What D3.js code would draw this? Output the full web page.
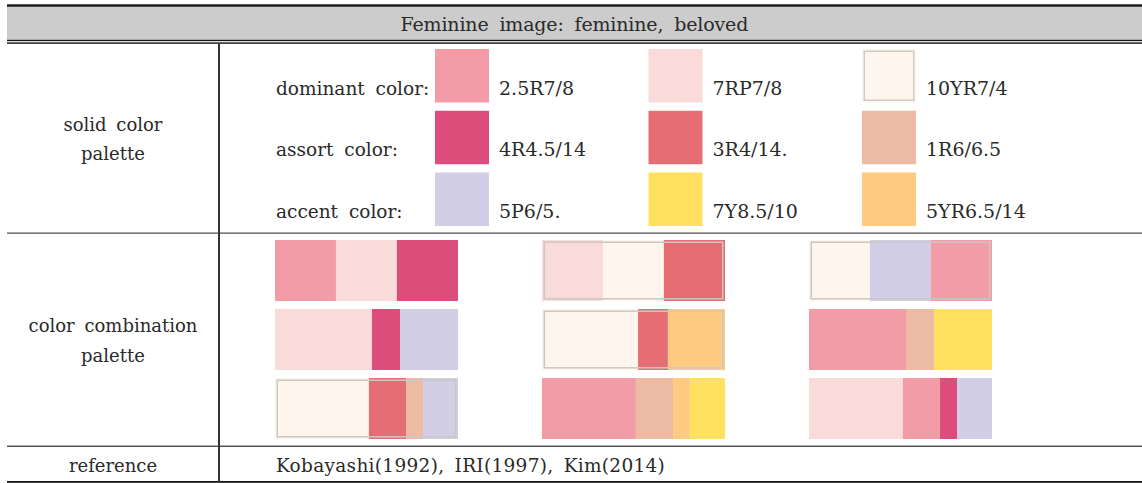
<!DOCTYPE html>
<html><head><meta charset="utf-8">
<script src="https://cdn.jsdelivr.net/npm/d3@7/dist/d3.min.js"></script>
<style>html,body{margin:0;padding:0;background:#fff;} svg{display:block;}</style>
</head><body>
<script>
// ---------- data ----------
const title = "Feminine image: feminine, beloved";
const sectionLabels = [["solid color", "palette"], ["color combination", "palette"], ["reference"]];
const roleLabels = ["dominant color:", "assort color:", "accent color:"];
const munsellCodes = [
  ["2.5R7/8", "7RP7/8", "10YR7/4"],
  ["4R4.5/14", "3R4/14.", "1R6/6.5"],
  ["5P6/5.", "7Y8.5/10", "5YR6.5/14"]
];
const munsellKeys = [
  ["2.5R7/8", "7RP7/8", "10YR7/4"],
  ["4R4.5/14", "3R4/14", "1R6/6.5"],
  ["5P6/5", "7Y8.5/10", "5YR6.5/14"]
];
const munsellColor = {
  "2.5R7/8": "#F19CA7", "7RP7/8": "#F9DBDA", "10YR7/4": "#FEF6EC",
  "4R4.5/14": "#DC4D7B", "3R4/14": "#E46E74", "1R6/6.5": "#EDBBA3",
  "5P6/5": "#D2CEE5", "7Y8.5/10": "#FFE15F", "5YR6.5/14": "#FECB80"
};
// combination palettes, row-major (row, column)
const comboColors = [
  [["2.5R7/8","7RP7/8","4R4.5/14"], ["7RP7/8","10YR7/4","3R4/14"], ["10YR7/4","5P6/5","2.5R7/8"]],
  [["7RP7/8","4R4.5/14","5P6/5"], ["10YR7/4","3R4/14","5YR6.5/14"], ["2.5R7/8","1R6/6.5","7Y8.5/10"]],
  [["10YR7/4","3R4/14","1R6/6.5","5P6/5"], ["2.5R7/8","1R6/6.5","5YR6.5/14","7Y8.5/10"], ["7RP7/8","2.5R7/8","4R4.5/14","5P6/5"]]
];
const comboShares = [
  [[33.3,33.3,33.4], [33.3,33.3,33.4], [33.3,33.3,33.4]],
  [[53,15.3,31.7], [52.5,16.3,31.2], [53,15.3,31.7]],
  [[51.3,20.3,9.3,19.1], [51.3,20.3,9.3,19.1], [51.3,20.3,9.3,19.1]]
];
const comboFramed = [
  [false, true, true],
  [false, true, false],
  [true, false, false]
];
const referenceText = "Kobayashi(1992), IRI(1997), Kim(2014)";

// ---------- layout ----------
const FONT = "'DejaVu Serif', serif";
const W = 1142, H = 483;
const left = 7, divX = 219;
const svg = d3.select("body").append("svg").attr("width", W).attr("height", H);
function txt(x, y, size, s) {
  return svg.append("text").attr("x", x).attr("y", y).attr("font-family", FONT)
    .attr("font-size", size).attr("fill", "#2a2a2a").text(s);
}

// header
svg.append("rect").attr("x", left).attr("y", 6).attr("width", W - left).attr("height", 35).attr("fill", "#cccccc");
svg.append("rect").attr("x", left).attr("y", 4.3).attr("width", W - left).attr("height", 2.4).attr("fill", "#161616");
svg.append("rect").attr("x", left).attr("y", 39.8).attr("width", W - left).attr("height", 1.3).attr("fill", "#161616");
svg.append("rect").attr("x", left).attr("y", 41.1).attr("width", W - left).attr("height", 1.3).attr("fill", "#dddddd");
svg.append("rect").attr("x", left).attr("y", 42.4).attr("width", W - left).attr("height", 1.4).attr("fill", "#161616");
txt((left + W) / 2, 30.5, 19, title).attr("text-anchor", "middle")
  .attr("letter-spacing", 0.2).attr("word-spacing", 5).attr("textLength", 348).attr("lengthAdjust", "spacing");

// grid lines
svg.append("rect").attr("x", left).attr("y", 232.4).attr("width", W - left).attr("height", 1.5).attr("fill", "#6e6e6e");
svg.append("rect").attr("x", left).attr("y", 445.6).attr("width", W - left).attr("height", 1.3).attr("fill", "#3a3a3a");
svg.append("rect").attr("x", left).attr("y", 481).attr("width", W - left).attr("height", 1.8).attr("fill", "#161616");
svg.append("rect").attr("x", divX - 1).attr("y", 43.8).attr("width", 2).attr("height", 482 - 43.8).attr("fill", "#333333");

// section labels
const sectionY = [[130.5, 160], [332, 361.5], [472]];
sectionLabels.forEach((lines, i) => {
  lines.forEach((t, j) => {
    txt((left + divX) / 2, sectionY[i][j], 18, t).attr("text-anchor", "middle")
      .attr("word-spacing", 4);
  });
});

// solid palette
const swCol = d3.scalePoint().domain([0, 1, 2]).range([435, 862]);
const swRow = d3.scalePoint().domain([0, 1, 2]).range([49, 172.5]);
const swSize = 54;
roleLabels.forEach((t, r) => {
  txt(276, swRow(r) + 45.5, 18.5, t).attr("word-spacing", 5);
});
munsellKeys.forEach((row, r) => {
  row.forEach((key, c) => {
    const x = swCol(c), y = swRow(r);
    svg.append("rect").attr("x", x).attr("y", y).attr("width", swSize).attr("height", swSize - 0.5)
      .attr("fill", munsellColor[key]);
    if (key === "10YR7/4") {
      svg.append("rect").attr("x", x + 2.3).attr("y", y + 2.3).attr("width", swSize - 4.6).attr("height", swSize - 5)
        .attr("fill", "none").attr("stroke", "#cdc9c4").attr("stroke-width", 1.4);
    }
    txt(x + 64, y + 45.5, 19, munsellCodes[r][c]);
  });
});

// combination palette
const cbCol = d3.scalePoint().domain([0, 1, 2]).range([275, 809]);
const cbRow = d3.scalePoint().domain([0, 1, 2]).range([240, 378]);
const cbW = 183, cbH = 61;
comboColors.forEach((row, r) => {
  row.forEach((cols, c) => {
    const shares = comboShares[r][c];
    const x0 = cbCol(c), y0 = cbRow(r);
    const xs = d3.scaleLinear().domain([0, d3.sum(shares)]).range([x0, x0 + cbW]);
    const cum = d3.cumsum(shares);
    const g = svg.append("g");
    g.selectAll("rect").data(cols).join("rect")
      .attr("x", (d, i) => xs(i === 0 ? 0 : cum[i - 1]))
      .attr("y", y0)
      .attr("width", (d, i) => xs(cum[i]) - xs(i === 0 ? 0 : cum[i - 1]))
      .attr("height", cbH)
      .attr("fill", d => munsellColor[d]);
    if (comboFramed[r][c]) {
      g.append("rect").attr("x", x0 + 2.3).attr("y", y0 + 2.2).attr("width", cbW - 4.6).attr("height", cbH - 4.4)
        .attr("fill", "none").attr("stroke", "#cbc7c3").attr("stroke-width", 1.5);
    }
  });
});

// reference
txt(276, 472, 18.5, referenceText).attr("letter-spacing", 0.3).attr("word-spacing", 4);
</script>
</body></html>
